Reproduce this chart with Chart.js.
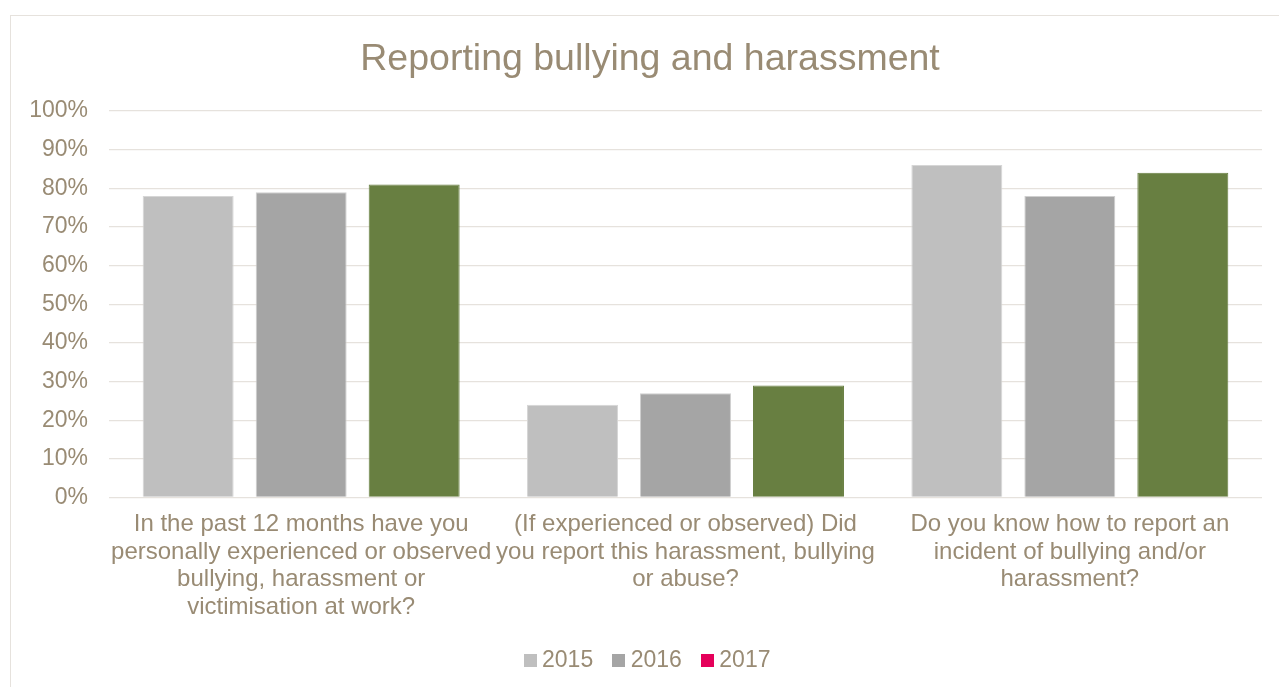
<!DOCTYPE html>
<html>
<head>
<meta charset="utf-8">
<script src="https://cdn.jsdelivr.net/npm/chart.js@4/dist/chart.umd.min.js"></script>
<style>
  html, body { margin: 0; padding: 0; background: #fff; overflow: hidden; }
  #frame {
    position: absolute; left: 10px; top: 15px;
    width: 1278px; height: 700px;
    border: 1px solid #E6E2DD;
    background: #fff;
  }
  #wrap { position: relative; width: 1278px; height: 666px; }
</style>
</head>
<body>
<div id="frame"><div id="wrap"><canvas id="chart"></canvas></div></div>
<script>
// Survey questions (wrapped as they appear under the axis)
const categories = [
  ["In the past 12 months have you", "personally experienced or observed", "bullying, harassment or", "victimisation at work?"],
  ["(If experienced or observed) Did", "you report this harassment, bullying", "or abuse?"],
  ["Do you know how to report an", "incident of bullying and/or", "harassment?"]
];

const seriesNames = ["2015", "2016", "2017"];

// Percentage of "yes" answers per year
const values2015 = [78, 24, 86];
const values2016 = [79, 27, 78];
const values2017 = [81, 29, 84];

const barColors = ["#BFBFBF", "#A5A5A5", "#687F41"];
const barBorders = ["#D6D6D6", "#CFCFCF", "#687F41"];
const legendColors = ["#BFBFBF", "#A5A5A5", "#E5005A"];

const yTicks = [0, 10, 20, 30, 40, 50, 60, 70, 80, 90, 100];

const textColor = "#998B74";
const gridColor = "#E6E2DD";
const fontFamily = "'Liberation Sans', Arial, sans-serif";

// small square swatch used as the legend marker
function swatch(color) {
  const c = document.createElement("canvas");
  c.width = 13; c.height = 13;
  const g = c.getContext("2d");
  g.fillStyle = color;
  g.fillRect(0, 0, 13, 13);
  return c;
}

const seriesValues = [values2015, values2016, values2017];

const datasets = seriesNames.map((name, i) => ({
  label: name,
  data: seriesValues[i],
  backgroundColor: barColors[i],
  borderColor: barBorders[i],
  borderWidth: 1,
  categoryPercentage: 0.882,
  barPercentage: 0.805
}));

new Chart(document.getElementById("chart"), {
  type: "bar",
  data: { labels: categories, datasets },
  options: {
    responsive: true,
    maintainAspectRatio: false,
    animation: false,
    layout: { padding: 0 },
    plugins: {
      title: {
        display: true,
        text: "Reporting bullying and harassment",
        color: textColor,
        font: { family: fontFamily, size: 37.5, weight: "normal", lineHeight: 1.2 },
        padding: { top: 21, bottom: 29 }
      },
      legend: {
        position: "bottom",
        labels: {
          color: textColor,
          font: { family: fontFamily, size: 23 },
          usePointStyle: true,
          boxWidth: 1,
          boxHeight: 13,
          padding: 25,
          generateLabels(chart) {
            return chart.data.datasets.map((ds, i) => ({
              text: ds.label,
              fillStyle: legendColors[i],
              strokeStyle: legendColors[i],
              lineWidth: 0,
              pointStyle: swatch(legendColors[i]),
              hidden: !chart.isDatasetVisible(i),
              datasetIndex: i,
              fontColor: textColor
            }));
          }
        }
      },
      tooltip: { enabled: false }
    },
    scales: {
      x: {
        grid: { display: false, drawTicks: false },
        border: { display: false },
        ticks: {
          color: textColor,
          font: { family: fontFamily, size: 24, lineHeight: 1.155 },
          padding: 13,
          maxRotation: 0,
          minRotation: 0,
          autoSkip: false
        },
        afterFit(scale) { scale.height = 126.5; }
      },
      y: {
        min: 0,
        max: 100,
        afterBuildTicks(scale) { scale.ticks = yTicks.map(v => ({ value: v })); },
        grid: { color: gridColor, lineWidth: 1.3, drawTicks: false },
        border: { display: false },
        ticks: {
          color: textColor,
          font: { family: fontFamily, size: 23 },
          padding: 21,
          callback: v => v + "%"
        },
        afterFit(scale) { scale.width = 98; }
      },
      // empty right-hand margin beside the plot
      yRight: {
        type: "linear",
        position: "right",
        min: 0,
        max: 100,
        grid: { display: false, drawTicks: false },
        border: { display: false },
        ticks: { display: false },
        afterFit(scale) { scale.width = 27; }
      }
    }
  }
});
</script>
</body>
</html>
